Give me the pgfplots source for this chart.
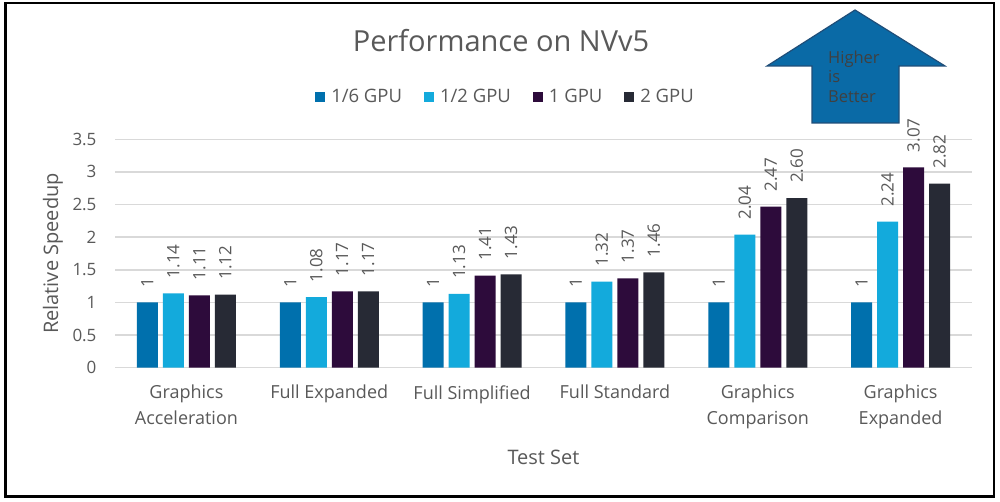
\documentclass[border=0pt]{standalone}
\usepackage{pgfplots}
\usepackage{pgfplotstable}
\pgfplotsset{compat=1.18}
\usepackage{fontspec}
\setmainfont{Open Sans}
\definecolor{c1}{HTML}{0070AD}
\definecolor{c2}{HTML}{13AADC}
\definecolor{c3}{HTML}{2D0B3B}
\definecolor{c4}{HTML}{272A35}
\definecolor{txt}{HTML}{595959}
\definecolor{gridc}{HTML}{D9D9D9}
\definecolor{arrowfill}{HTML}{0A6AA6}
\definecolor{arrowdraw}{HTML}{1F4E79}
\definecolor{arrowtxt}{HTML}{404040}

\pgfplotstableread{
x y lab
0 1 1
1 1 1
2 1 1
3 1 1
4 1 1
5 1 1
}\sixth
\pgfplotstableread{
x y lab
0 1.14 1.14
1 1.08 1.08
2 1.13 1.13
3 1.32 1.32
4 2.04 2.04
5 2.24 2.24
}\half
\pgfplotstableread{
x y lab
0 1.11 1.11
1 1.17 1.17
2 1.41 1.41
3 1.37 1.37
4 2.47 2.47
5 3.07 3.07
}\one
\pgfplotstableread{
x y lab
0 1.12 1.12
1 1.17 1.17
2 1.43 1.43
3 1.46 1.46
4 2.60 2.60
5 2.82 2.82
}\two

\begin{document}
\begin{tikzpicture}[x=1pt,y=1pt]
\useasboundingbox (0,0) rectangle (1000,502);
\fill[white] (0,0) rectangle (1000,502);
\draw[black, line width=2.5pt] (5.5,5.5) rectangle (994,499);
\begin{axis}[
  at={(115pt,134.3pt)}, anchor=south west,
  scale only axis, width=857pt, height=228.4pt,
  xmin=-0.5, xmax=5.5, ymin=0, ymax=3.5,
  ytick={0,0.5,1,1.5,2,2.5,3,3.5},
  xtick={0,1,2,3,4,5},
  xticklabels={{Graphics\\Acceleration},{Full Expanded},{Full Simplified},{Full Standard},{Graphics\\Comparison},{Graphics\\Expanded}},
  major tick length=0pt,
  axis line style={draw=none},
  ymajorgrids, grid style={gridc, line width=1.5pt},
  /pgf/number format/assume math mode=true,
  yticklabel style={font=\fontsize{17}{20}\selectfont, text=txt, xshift=-15pt},
  xticklabel style={font=\fontsize{18}{26}\selectfont, text=txt, align=center, yshift=-14pt},
  xlabel={Test Set}, ylabel={Relative Speedup},
  every axis x label/.style={at={(axis description cs:0.5,-0.426)}, anchor=base, font=\fontsize{20}{24}\selectfont, text=txt},
  every axis y label/.style={at={(axis description cs:-0.0665,0.5)}, rotate=90, anchor=base, font=\fontsize{20}{24}\selectfont, text=txt},
  ybar=5pt, bar width=21pt,
  point meta=explicit symbolic,
  nodes near coords,
  every node near coord/.append style={rotate=90, anchor=west, inner xsep=15pt, inner ysep=0pt, font=\fontsize{17}{20}\selectfont, text=txt},
  legend columns=4,
  legend style={at={(axis description cs:0.4557,1.185)}, anchor=center, draw=none, fill=none,
    font=\fontsize{18.5}{22}\selectfont, text=txt,
    /tikz/every odd column/.append style={column sep=4pt},
    /tikz/every even column/.append style={column sep=20pt}},
  legend image code/.code={\fill[#1] (0pt,-5pt) rectangle (10pt,5pt);},
]
\addplot[fill=c1, draw=none] table[x=x, y=y, meta=lab] {\sixth};
\addplot[fill=c2, draw=none] table[x=x, y=y, meta=lab] {\half};
\addplot[fill=c3, draw=none] table[x=x, y=y, meta=lab] {\one};
\addplot[fill=c4, draw=none] table[x=x, y=y, meta=lab] {\two};
\legend{1/6 GPU, 1/2 GPU, 1 GPU, 2 GPU}
\end{axis}
\node[anchor=base, font=\fontsize{29}{34}\selectfont, text=txt] at (501,450) {Performance on NVv5};
\filldraw[fill=arrowfill, draw=arrowdraw, line width=1.2pt]
  (855,492) -- (945,436) -- (899,436) -- (899,379) -- (812,379) -- (812,436) -- (767,436) -- cycle;
\node[anchor=base west, inner sep=0pt, font=\fontsize{16.5}{20}\selectfont, text=arrowtxt] at (828,438) {Higher};
\node[anchor=base west, inner sep=0pt, font=\fontsize{16.5}{20}\selectfont, text=arrowtxt] at (828,419) {is};
\node[anchor=base west, inner sep=0pt, font=\fontsize{16.5}{20}\selectfont, text=arrowtxt] at (828,399) {Better};
\end{tikzpicture}
\end{document}
